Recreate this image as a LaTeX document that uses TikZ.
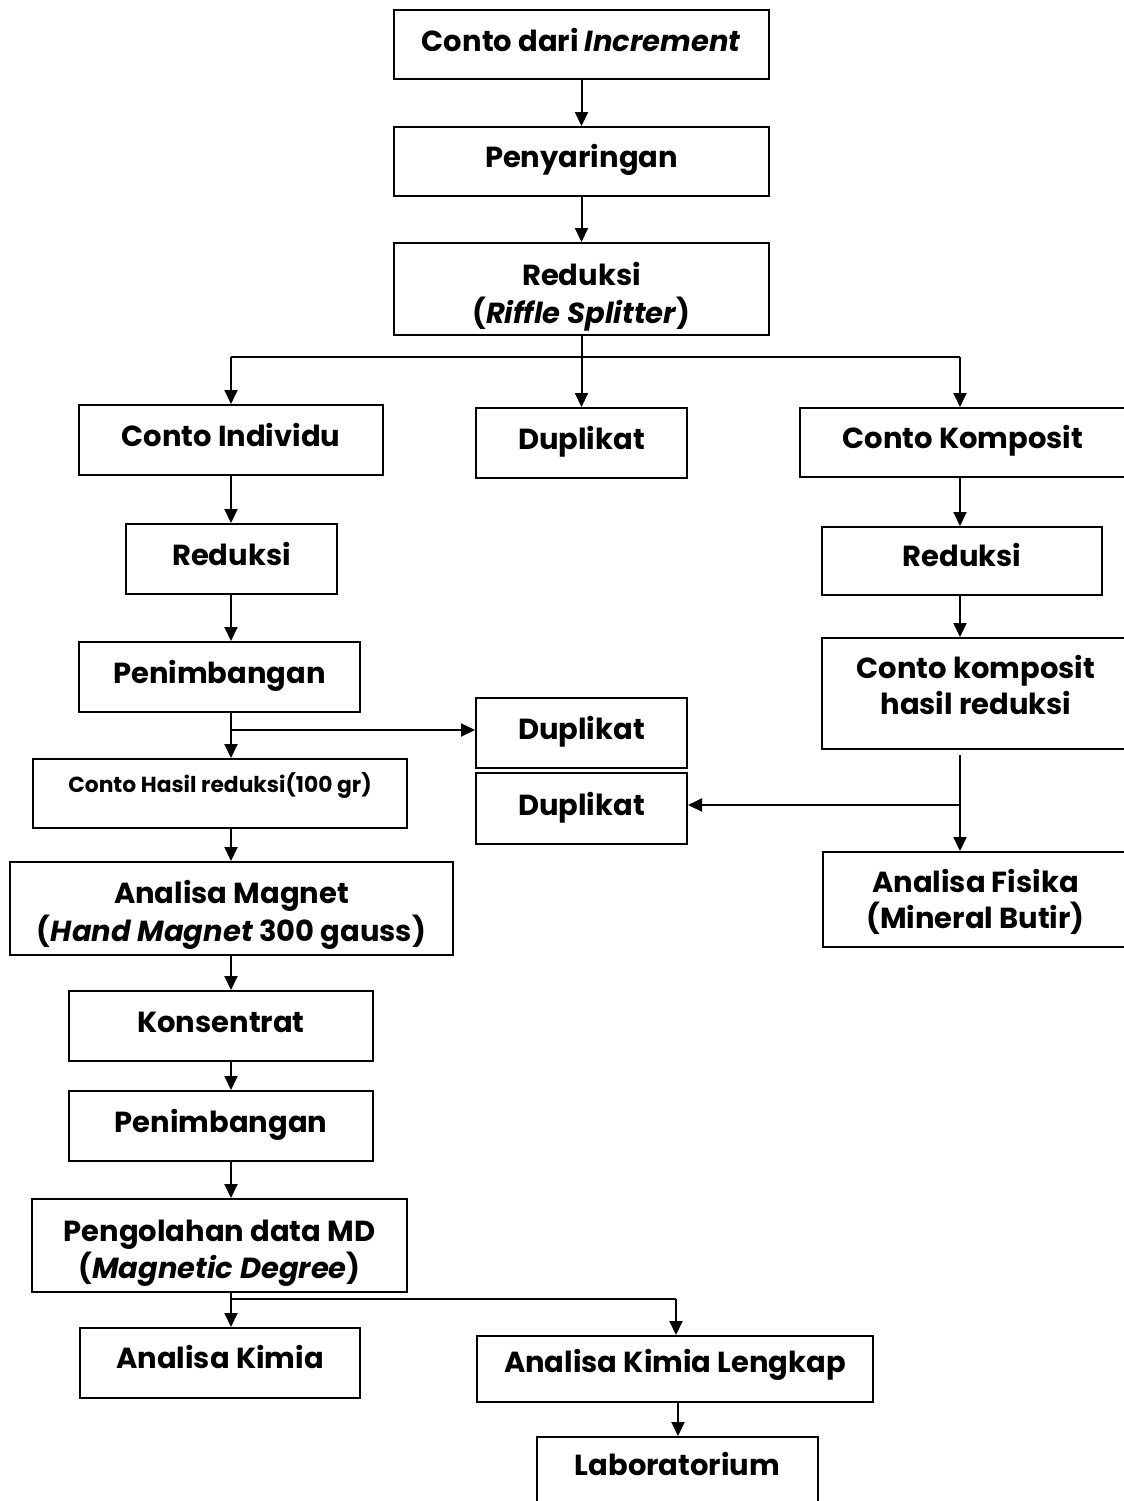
\documentclass[tikz,border=0pt]{standalone}
\usepackage{fontspec}
\setmainfont{Poppins}
\usetikzlibrary{arrows.meta}
\begin{document}
\begin{tikzpicture}[x=0.5pt,y=-0.5pt,
  box/.style={draw, line width=1pt, inner sep=0pt},
  txt/.style={anchor=base, inner sep=0pt, font=\fontsize{14.5}{18}\selectfont\bfseries},
  smalltxt/.style={anchor=base, inner sep=0pt, font=\fontsize{10.9}{13}\selectfont\bfseries},
  sz/.style 2 args={minimum width=#1*0.5pt, minimum height=#2*0.5pt},
  arr/.style={line width=1pt, -{Triangle[length=7pt,width=6.5pt]}},
  ln/.style={line width=1pt}]
\useasboundingbox (0,0) rectangle (1124,1501);
% ---------- boxes ----------
\node[box, sz={375}{69}] (c1) at (581.5,44.5) {};
\node[box, sz={375}{69}] (c2) at (581.5,161.5) {};
\node[box, sz={375}{92}] (c3) at (581.5,289) {};
\node[box, sz={304}{70}] (ci) at (231,440) {};
\node[box, sz={211}{70}] (d1) at (581.5,443) {};
\node[box, sz={326}{69}] (ck) at (963,442.5) {};
\node[box, sz={211}{70}] (r2) at (231.5,559) {};
\node[box, sz={281}{70}] (p1) at (219.5,677) {};
\node[box, sz={374}{69}] (ch) at (220,793.5) {};
\node[box, sz={443}{93}] (am) at (231.5,908.5) {};
\node[box, sz={304}{70}] (ks) at (221,1026) {};
\node[box, sz={304}{70}] (p2) at (221,1126) {};
\node[box, sz={375}{93}] (pd) at (219.5,1245.5) {};
\node[box, sz={280}{70}] (ak) at (220,1363) {};
\node[box, sz={396}{66}] (akl) at (675,1369) {};
\node[box, sz={281}{70}] (lab) at (677.5,1472) {};
\node[box, sz={211}{70}] (d2) at (581.5,733) {};
\node[box, sz={211}{71}] (d3) at (581.5,808.5) {};
\node[box, sz={280}{68}] (r3) at (962,561) {};
\node[box, sz={308}{111}] (ckh) at (976,693.5) {};
\node[box, sz={305}{95}] (af) at (975.5,899.5) {};
% ---------- texts ----------
\node[txt] (t1) at (581.5,51) {Conto dari \textit{Increment}};
\node[txt] (t2) at (581.5,167) {Penyaringan};
\node[txt] (t3a) at (581.5,285) {Reduksi};
\node[txt] (t3b) at (581.5,323) {(\textit{Riffle Splitter})};
\node[txt] (tci) at (231,446) {Conto Individu};
\node[txt] (td1) at (581.5,449) {Duplikat};
\node[txt] (tck) at (963,448) {Conto Komposit};
\node[txt] (tr2) at (231.5,565) {Reduksi};
\node[txt] (tr3) at (962,566) {Reduksi};
\node[txt] (tp1) at (219.5,683) {Penimbangan};
\node[txt] (td2) at (581.5,739) {Duplikat};
\node[txt] (td3) at (581.5,815) {Duplikat};
\node[smalltxt] (tch) at (220,792) {Conto Hasil reduksi(100 gr)};
\node[txt] (tckha) at (976,678) {Conto komposit};
\node[txt] (tckhb) at (976,714) {hasil reduksi};
\node[txt] (tama) at (231.5,903) {Analisa Magnet};
\node[txt] (tamb) at (231.5,941) {(\textit{Hand Magnet} 300 gauss)};
\node[txt] (tafa) at (975.5,892) {Analisa Fisika};
\node[txt] (tafb) at (975.5,928) {(Mineral Butir)};
\node[txt] (tks) at (221,1032) {Konsentrat};
\node[txt] (tp2) at (221,1132) {Penimbangan};
\node[txt] (tpda) at (219.5,1241) {Pengolahan data MD};
\node[txt] (tpdb) at (219.5,1278) {(\textit{Magnetic Degree})};
\node[txt] (tak) at (220,1368) {Analisa Kimia};
\node[txt] (takl) at (675,1372) {Analisa Kimia Lengkap};
\node[txt] (tlab) at (677.5,1475) {Laboratorium};
% ---------- coordinates ----------
\coordinate (colL) at (231,0);
\coordinate (colR) at (960,0);
\coordinate (busL) at (231,357);
\coordinate (busR) at (960,357);
\coordinate (br1) at (231,730);
\coordinate (ckhs) at (960,755);
\coordinate (br2) at (960,805);
\coordinate (bus2L) at (231,1299);
\coordinate (bus2R) at (676,1299);
\coordinate (colLab) at (678,0);
% ---------- connectors ----------
\draw[arr] (c1) -- (c2);
\draw[arr] (c2) -- (c3);
\draw[arr] (c3.south) -- (d1.north);
\draw[ln] (busL) -- (busR);
\draw[arr] (busL) -- (ci.north -| busL);
\draw[arr] (busR) -- (ck.north -| busR);
\draw[arr] (ci.south -| colL) -- (r2.north -| colL);
\draw[arr] (r2.south -| colL) -- (p1.north -| colL);
\draw[arr] (p1.south -| colL) -- (ch.north -| colL);
\draw[arr] (br1) -- (br1 -| d2.west);
\draw[arr] (ch.south -| colL) -- (am.north -| colL);
\draw[arr] (am.south -| colL) -- (ks.north -| colL);
\draw[arr] (ks.south -| colL) -- (p2.north -| colL);
\draw[arr] (p2.south -| colL) -- (pd.north -| colL);
\draw[ln] (pd.south -| colL) -- (bus2L) -- (bus2R);
\draw[arr] (bus2L) -- (ak.north -| bus2L);
\draw[arr] (bus2R) -- (akl.north -| bus2R);
\draw[arr] (akl.south -| colLab) -- (lab.north -| colLab);
\draw[arr] (ck.south -| colR) -- (r3.north -| colR);
\draw[arr] (r3.south -| colR) -- (ckh.north -| colR);
\draw[arr] (ckhs) -- (af.north -| colR);
\draw[arr] (br2) -- (br2 -| d3.east);
\end{tikzpicture}
\end{document}
